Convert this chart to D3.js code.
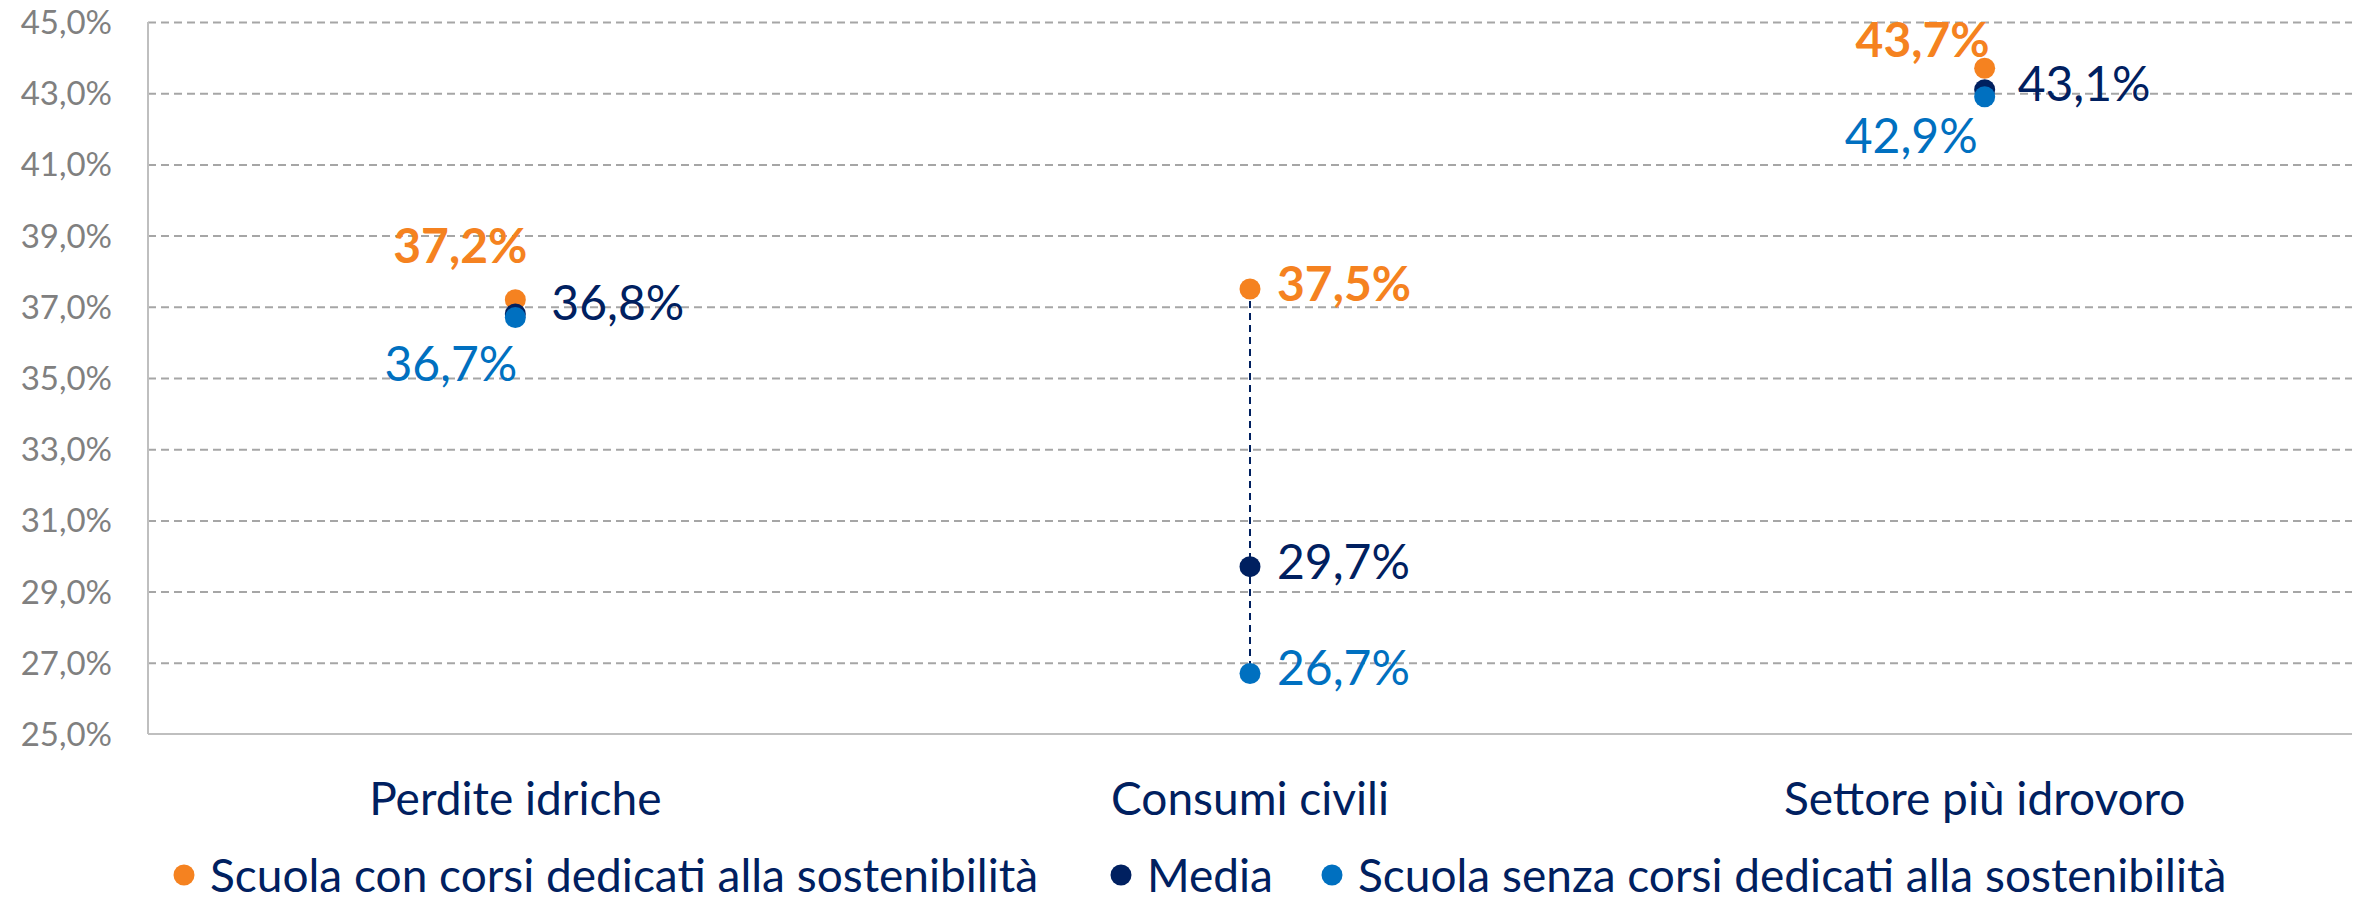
<!DOCTYPE html>
<html>
<head>
<meta charset="utf-8">
<script src="https://cdn.jsdelivr.net/npm/d3@7"></script>
<style>
  body { margin: 0; background: #fff; }
  svg { display: block; font-family: "Source Sans Pro", Lato, sans-serif; }
  .y-axis .tick text { fill: #808080; font-size: 33px; }
  .x-axis .tick text { fill: #002060; font-size: 46px; }
</style>
</head>
<body>
<svg width="2366" height="900"></svg>
<script>
// Data
const categories = ['Perdite idriche', 'Consumi civili', 'Settore più idrovoro'];
const seriesNames = [
  'Scuola con corsi dedicati alla sostenibilità',
  'Media',
  'Scuola senza corsi dedicati alla sostenibilità'
];
const withCourses = [37.2, 37.5, 43.7];
const average = [36.8, 29.7, 43.1];
const withoutCourses = [36.7, 26.7, 42.9];
const yTicks = [25, 27, 29, 31, 33, 35, 37, 39, 41, 43, 45];

const colors = ['#F58220', '#002060', '#0070C0'];

// Label placement per series/category: [dx, dy, anchor]
const labelPlace = [
  [[12, -37, 'end'], [27, 12, 'start'], [5, -11, 'end']],
  [[36, 6, 'start'], [27, 12, 'start'], [33, 11, 'start']],
  [[2, 64, 'end'], [27, 12, 'start'], [-7, 56, 'end']]
];

const it = d3.formatLocale({ decimal: ',', thousands: '.', grouping: [3], currency: ['', '€'] });
const fmt = v => it.format('.1f')(v) + '%';

const svg = d3.select('svg');
const margin = { left: 148, right: 14, top: 22, bottom: 166 };
const width = +svg.attr('width');
const height = +svg.attr('height');
const innerWidth = width - margin.left - margin.right;
const innerHeight = height - margin.top - margin.bottom;

const g = svg.append('g').attr('transform', `translate(${margin.left},${margin.top})`);

const xScale = d3.scaleBand().domain(categories).range([0, innerWidth]);
const yScale = d3.scaleLinear().domain([25, 45]).range([innerHeight, 0]);

// Grid + y axis
const yAxisGroup = g.append('g')
  .attr('class', 'y-axis')
  .call(d3.axisLeft(yScale).tickValues(yTicks).tickSize(-innerWidth).tickPadding(36).tickFormat(fmt))
  .attr('font-family', null)
  .attr('font-size', null);
yAxisGroup.select('.domain').remove();
yAxisGroup.selectAll('.tick line')
  .attr('stroke', '#A6A6A6')
  .attr('stroke-width', 2)
  .attr('stroke-dasharray', '8,5')
  .filter(d => d === 25).remove();
yAxisGroup.selectAll('.tick text').attr('dy', '0.35em');

// Axis lines
g.append('line').attr('x1', 0).attr('x2', 0).attr('y1', 0).attr('y2', innerHeight)
  .attr('stroke', '#BFBFBF').attr('stroke-width', 2);
g.append('line').attr('x1', 0).attr('x2', innerWidth).attr('y1', innerHeight).attr('y2', innerHeight)
  .attr('stroke', '#BFBFBF').attr('stroke-width', 2);

// Category labels
const xAxisGroup = g.append('g')
  .attr('class', 'x-axis')
  .attr('transform', `translate(0,${innerHeight})`)
  .call(d3.axisBottom(xScale).tickSize(0).tickPadding(0))
  .attr('font-family', null)
  .attr('font-size', null);
xAxisGroup.select('.domain').remove();
xAxisGroup.selectAll('.tick text')
  .attr('dy', 0)
  .attr('y', 81);

// Build table
const series = [withCourses, average, withoutCourses];
const rows = categories.map((c, i) => ({ cat: c, vals: series.map(s => s[i]) }));

// Connectors
g.selectAll('.connector')
  .data(rows)
  .enter()
  .append('line')
  .attr('class', 'connector')
  .attr('x1', d => xScale(d.cat) + xScale.bandwidth() / 2)
  .attr('x2', d => xScale(d.cat) + xScale.bandwidth() / 2)
  .attr('y1', d => yScale(d3.max(d.vals)))
  .attr('y2', d => yScale(d3.min(d.vals)))
  .attr('stroke', '#002060')
  .attr('stroke-width', 2)
  .attr('stroke-dasharray', '7,5');

// Dots
series.forEach((s, si) => {
  g.selectAll('.dot' + si)
    .data(s)
    .enter()
    .append('circle')
    .attr('cx', (d, i) => xScale(categories[i]) + xScale.bandwidth() / 2)
    .attr('cy', d => yScale(d))
    .attr('r', 10.5)
    .attr('fill', colors[si]);
});

// Value labels
series.forEach((s, si) => {
  g.selectAll('.lab' + si)
    .data(s)
    .enter()
    .append('text')
    .attr('x', (d, i) => xScale(categories[i]) + xScale.bandwidth() / 2 + labelPlace[si][i][0])
    .attr('y', (d, i) => yScale(d) + labelPlace[si][i][1])
    .attr('text-anchor', (d, i) => labelPlace[si][i][2])
    .attr('fill', colors[si])
    .attr('font-size', 48)
    .attr('font-weight', si === 0 ? 700 : 400)
    .text(fmt);
});

// Legend
const legendX = [184, 1121, 1332];
const legend = svg.append('g').attr('transform', 'translate(0,875)');
seriesNames.forEach((name, i) => {
  legend.append('circle').attr('cx', legendX[i]).attr('cy', 0).attr('r', 10.5).attr('fill', colors[i]);
  legend.append('text')
    .attr('x', legendX[i] + 26)
    .attr('y', 0)
    .attr('dy', '0.36em')
    .attr('fill', '#002060')
    .attr('font-size', 46)
    .text(name);
});
</script>
</body>
</html>
